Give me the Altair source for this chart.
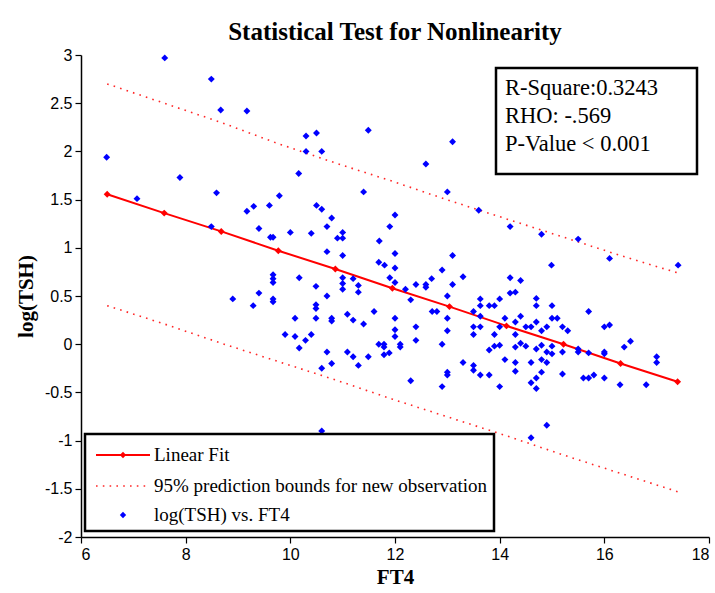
import altair as alt
import pandas as pd

# ---------------- data ----------------
ft4 = [7.60, 8.49, 8.67, 9.17, 6.49, 7.89, 8.59, 7.07, 9.79, 9.17, 9.30, 9.60, 10.16, 8.49, 9.40, 9.62, 9.67, 10.00,
       10.30, 10.50, 11.49, 13.10, 10.30, 10.60, 12.59, 11.40, 13.00, 13.60, 10.50, 10.60, 10.79, 12.00, 10.70, 11.90,
       10.40, 11.00, 10.90, 11.00, 11.70,
       14.20, 14.80, 15.50,
       16.10, 17.41, 14.99, 14.20, 14.40, 14.20, 14.30, 14.70, 14.70, 15.00, 14.00, 13.80, 13.90, 13.63, 13.63, 15.70,
       14.10, 14.40, 15.00, 15.10, 14.30, 14.70, 14.60, 14.50, 13.63, 14.00, 13.63, 14.90, 14.80, 15.20, 15.30, 16.00,
       16.10, 13.90, 14.30, 13.80, 13.90, 14.00, 14.30, 14.40, 14.50, 14.70, 14.80, 15.00, 14.90, 15.00, 15.20, 15.50,
       15.50, 15.70, 16.00, 16.00, 16.38, 16.50, 17.00, 17.00, 14.10, 14.30, 14.30, 14.60, 14.80, 14.90, 13.63, 13.80,
       14.00, 14.60, 14.70, 14.70, 14.80, 15.20, 15.60, 15.70, 15.80, 16.00, 16.30, 16.80, 14.90, 14.60,
       10.70, 11.00, 12.00, 13.10, 11.69, 11.80, 12.00, 12.90, 10.17, 11.00, 11.00, 11.00, 11.20, 11.30, 11.30, 11.90,
       12.00, 12.20, 12.40, 12.59, 12.59, 12.70, 13.10, 13.30, 10.49, 10.70, 12.30, 13.00, 10.49, 10.49, 10.49, 10.09,
       10.79, 10.79, 11.09, 11.20, 11.40, 11.60, 12.00, 12.71, 12.80, 13.00, 13.50, 13.50, 9.90, 10.09, 10.40, 10.29,
       10.17, 12.00, 12.00, 12.40, 12.40, 13.00, 13.50, 11.69, 11.79, 11.79, 11.89, 11.79, 12.10, 12.10, 10.70, 11.09,
       11.20, 11.30, 11.49, 10.79, 10.60, 12.90, 13.30, 13.50, 13.50, 13.00, 13.00, 12.90, 12.30, 10.60,
       9.67, 9.67, 9.67, 9.40, 8.90, 9.29, 9.67, 9.67]
log_tsh = [2.97, 2.75, 2.43, 2.42, 1.94, 1.73, 1.57, 1.51, 1.54, 1.38, 1.43, 1.44, 1.77, 1.22, 1.20, 1.11, 1.11, 1.16,
           2.16, 2.19, 2.22, 2.10, 2.00, 2.00, 1.87, 1.58, 1.58, 1.39, 1.44, 1.40, 1.31, 1.34, 1.22, 1.22,
           1.15, 1.16, 1.10, 1.10, 1.07,
           1.22, 1.14, 1.09,
           0.89, 0.82, 0.82, 0.69, 0.66, 0.53, 0.54, 0.475, 0.40, 0.40, 0.47, 0.40, 0.40, 0.47, 0.40, 0.34,
           0.27, 0.29, 0.27, 0.27, 0.23, 0.23, 0.18, 0.18, 0.29, 0.18, 0.18, 0.18, 0.14, 0.18, 0.14, 0.18,
           0.20, 0.10, 0.10, -0.06, -0.02, -0.01, -0.03, 0.01, -0.02, -0.05, -0.01, -0.02, -0.08, -0.10, -0.08, -0.05,
           -0.08, -0.09, -0.08, -0.10, -0.03, 0.03, -0.13, -0.19, -0.16, -0.19, -0.28, -0.19, -0.16, -0.19, -0.32, -0.32,
           -0.44, -0.40, -0.35, -0.46, -0.29, -0.31, -0.35, -0.35, -0.32, -0.35, -0.42, -0.42, -0.84, -0.97,
           0.96, 0.92, 0.94, 0.92, 0.85, 0.82, 0.79, 0.77, 0.69, 0.69, 0.63, 0.57, 0.68, 0.61, 0.54, 0.69,
           0.64, 0.57, 0.62, 0.62, 0.59, 0.68, 0.62, 0.70, 0.60, 0.50, 0.46, 0.50, 0.41, 0.37, 0.27, 0.27,
           0.27, 0.24, 0.31, 0.25, 0.21, 0.34, 0.27, 0.34, 0.34, 0.27, 0.34, 0.18, 0.10, 0.08, 0.10, 0.04,
           -0.04, 0.15, 0.08, 0.18, 0.04, 0.14, 0.10, 0.00, 0.00, -0.03, -0.09, -0.11, 0.00, -0.03, -0.08, -0.08,
           -0.13, -0.22, -0.13, -0.20, -0.25, 0.00, -0.19, -0.22, -0.27, -0.29, -0.32, -0.44, -0.38, -0.90,
           0.72, 0.68, 0.64, 0.53, 0.47, 0.40, 0.47, 0.44]

fit_x = [6.50, 7.59, 8.68, 9.77, 10.86, 11.95, 13.04, 14.13, 15.22, 16.31, 17.40]
fit_y = [1.556, 1.36, 1.17, 0.97, 0.78, 0.58, 0.39, 0.19, 0.00, -0.20, -0.39]
upper_y = [2.70, 2.50, 2.30, 2.08, 1.88, 1.69, 1.49, 1.30, 1.11, 0.92, 0.74]
lower_y = [0.40, 0.21, 0.01, -0.18, -0.37, -0.57, -0.76, -0.95, -1.15, -1.34, -1.53]

x_ticks = [6, 8, 10, 12, 14, 16, 18]
y_ticks = [-2, -1.5, -1, -0.5, 0, 0.5, 1, 1.5, 2, 2.5, 3]

legend_labels = ["Linear Fit", "95% prediction bounds for new observation", "log(TSH) vs. FT4"]
stats_lines = ["R-Square:0.3243", "RHO: -.569", "P-Value < 0.001"]

# ---------------- tables ----------------
pts = pd.DataFrame({"FT4": ft4, "logTSH": log_tsh})
fit = pd.DataFrame({"FT4": fit_x, "fit": fit_y, "upper": upper_y, "lower": lower_y})
one = pd.DataFrame({"k": [0]})

SERIF = "Liberation Serif"
RED = "#ff0000"
BLUE = "#0000ff"

xs = alt.Scale(domain=[6, 18], nice=False, zero=False)
ys = alt.Scale(domain=[-2, 3], nice=False, zero=False)

x_enc = alt.X("FT4:Q", scale=xs, title="FT4",
              axis=alt.Axis(values=x_ticks, labelExpr="'' + datum.value", titlePadding=4))
y_enc_pts = alt.Y("logTSH:Q", scale=ys, title="log(TSH)",
                  axis=alt.Axis(values=y_ticks, labelExpr="'' + datum.value", titlePadding=8))

upper = alt.Chart(fit).mark_line(color=RED, strokeWidth=1.6, strokeDash=[1.6, 5.2], opacity=0.85).encode(
    x=alt.X("FT4:Q", scale=xs, title="FT4",
            axis=alt.Axis(values=x_ticks, labelExpr="'' + datum.value", titlePadding=4)),
    y=alt.Y("upper:Q", scale=ys, title="log(TSH)",
            axis=alt.Axis(values=y_ticks, labelExpr="'' + datum.value", titlePadding=8)))
lower = alt.Chart(fit).mark_line(color=RED, strokeWidth=1.6, strokeDash=[1.6, 5.2], opacity=0.85).encode(
    x=alt.X("FT4:Q", scale=xs), y=alt.Y("lower:Q", scale=ys))
fit_line = alt.Chart(fit).mark_line(color=RED, strokeWidth=2).encode(
    x=alt.X("FT4:Q", scale=xs), y=alt.Y("fit:Q", scale=ys))
fit_pts = alt.Chart(fit).mark_point(shape="diamond", filled=True, size=48, color=RED, opacity=1).encode(
    x=alt.X("FT4:Q", scale=xs), y=alt.Y("fit:Q", scale=ys))

scatter = alt.Chart(pts).mark_point(shape="diamond", filled=True, size=48, color=BLUE, opacity=1).encode(
    x=x_enc, y=y_enc_pts)

# ---------------- statistics box (pixel positions inside plot area) ----------------
stats_box = alt.Chart(one).mark_rect(fill="white", stroke="black", strokeWidth=2.5).encode(
    x=alt.value(415), x2=alt.value(616), y=alt.value(13), y2=alt.value(119))
stats_layers = [stats_box]
for i, line in enumerate(stats_lines):
    stats_layers.append(
        alt.Chart(one).mark_text(text=line, font=SERIF, fontSize=22.5, align="left", baseline="middle",
                                 color="black").encode(x=alt.value(424), y=alt.value(33 + 28 * i)))

# ---------------- legend box ----------------
leg_box = alt.Chart(one).mark_rect(fill="white", stroke="black", strokeWidth=2.5).encode(
    x=alt.value(4), x2=alt.value(413), y=alt.value(379), y2=alt.value(476))
leg_y = [400, 431, 460]
leg_layers = [
    leg_box,
    alt.Chart(one).mark_rule(color=RED, strokeWidth=2).encode(
        x=alt.value(15), x2=alt.value(69), y=alt.value(leg_y[0])),
    alt.Chart(one).mark_point(shape="diamond", filled=True, size=40, color=RED, opacity=1).encode(
        x=alt.value(42), y=alt.value(leg_y[0])),
    alt.Chart(one).mark_rule(color=RED, strokeWidth=1.6, strokeDash=[1.6, 5.2], opacity=0.85).encode(
        x=alt.value(15), x2=alt.value(69), y=alt.value(leg_y[1])),
    alt.Chart(one).mark_point(shape="diamond", filled=True, size=40, color=BLUE, opacity=1).encode(
        x=alt.value(42), y=alt.value(leg_y[2])),
]
for i, lab in enumerate(legend_labels):
    leg_layers.append(
        alt.Chart(one).mark_text(text=lab, font=SERIF, fontSize=19, align="left", baseline="middle",
                                 color="black").encode(x=alt.value(73), y=alt.value(leg_y[i])))

chart = alt.layer(upper, lower, fit_line, fit_pts, scatter, *stats_layers, *leg_layers).properties(
    width=628, height=482,
    background="white",
    title=alt.TitleParams("Statistical Test for Nonlinearity", font=SERIF, fontSize=25, fontWeight="bold",
                          color="black", anchor="middle", offset=2),
    padding={"left": 81, "top": 55, "right": 6, "bottom": 56},
    autosize="none",
).configure_view(stroke=None).configure_axis(
    grid=False, domainColor="black", domainWidth=1.5, tickColor="black", tickSize=6, tickWidth=1.2,
    labelFont="Liberation Sans", labelFontSize=16, labelColor="black", labelPadding=3,
    titleFont=SERIF, titleFontSize=21, titleFontWeight="bold", titleColor="black",
)

chart.save("out.html", embed_options={"renderer": "svg", "actions": False})
